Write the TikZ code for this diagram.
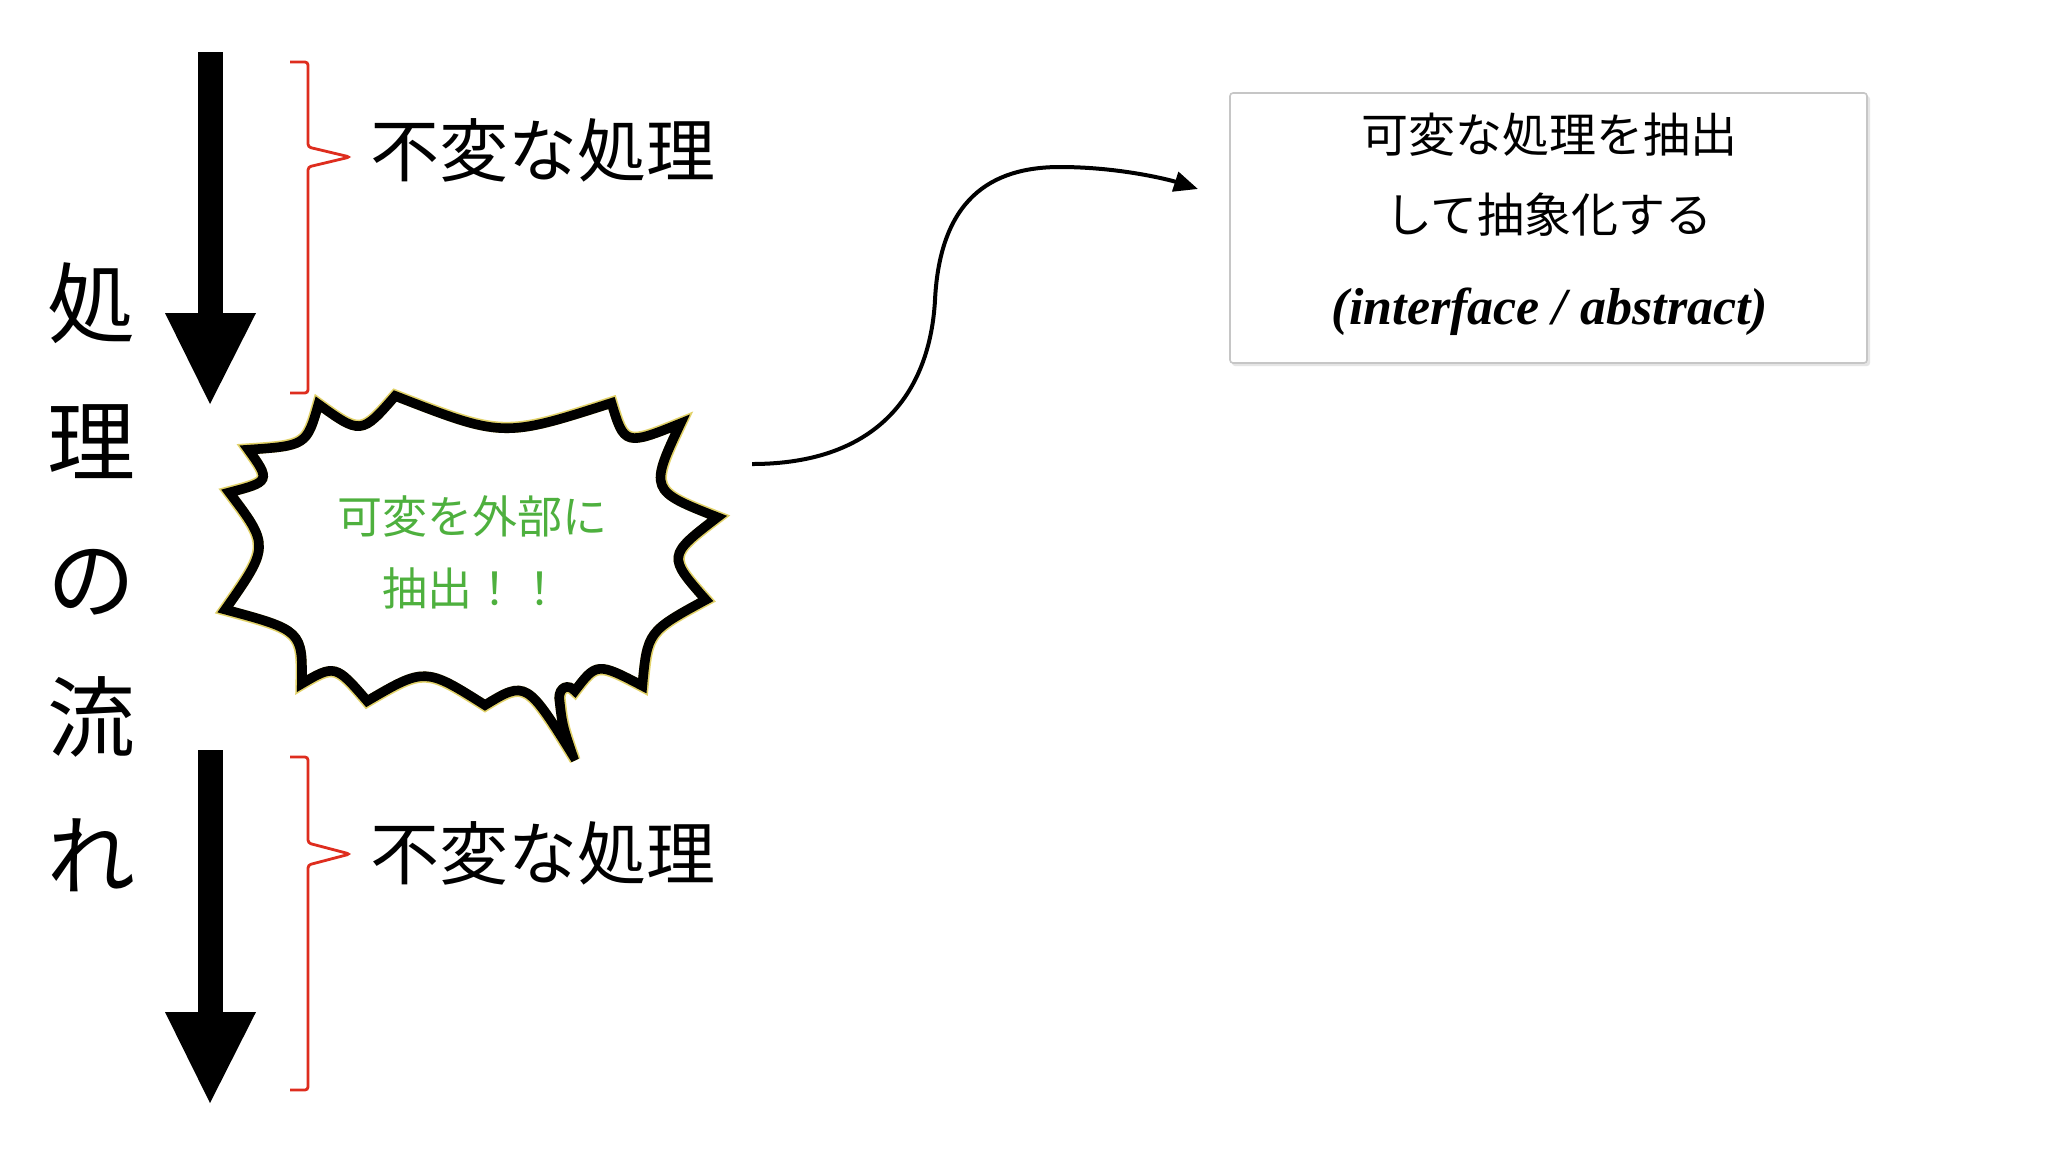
\documentclass[tikz,border=0pt]{standalone}
\usepackage{fontspec}
\newfontfamily\jp{Noto Sans CJK JP}
\newfontfamily\iface{Liberation Serif}
\usetikzlibrary{arrows.meta}
\definecolor{brred}{RGB}{222,45,30}
\definecolor{bgold}{RGB}{226,210,105}
\definecolor{bgreen}{RGB}{78,176,62}
\definecolor{boxgray}{RGB}{198,198,198}
\begin{document}
\begin{tikzpicture}[x=0.5pt,y=-0.5pt,
  bigtext/.style={inner sep=0pt, font=\jp\fontsize{34.5}{40}\selectfont},
  boxtext/.style={inner sep=0pt, font=\jp\fontsize{23.5}{28}\selectfont},
  brace/.style={draw=brred, line width=1.4pt, rounded corners=1.5pt},
  flowarrow/.style={fill=black},
  connector/.style={draw=black, line width=2pt, -{Triangle[length=12pt,width=10pt]}},
  absbox/.style={draw=boxgray, line width=0.8pt, rounded corners=1.5pt, fill=white,
     minimum width=318.5pt, minimum height=135pt, inner sep=0pt}]
\useasboundingbox (0,0) rectangle (2048,1152);
\fill[white] (0,0) rectangle (2048,1152);

% flow arrows
\fill[flowarrow] (198,52) rectangle (223,314);
\fill[flowarrow] (165,313) -- (256,313) -- (210,404) -- cycle;
\fill[flowarrow] (198,750) rectangle (223,1013);
\fill[flowarrow] (165,1012) -- (256,1012) -- (210,1103) -- cycle;

% vertical label
\node[inner sep=0pt, align=center, font=\jp\fontsize{44}{69}\selectfont] (flow) at (91,577) {処\\理\\の\\流\\れ};

% brackets
\draw[brace] (290,62) -- (308,62) -- (308,147) -- (350,157) -- (308,167) -- (308,393) -- (290,393);
\draw[brace] (290,757) -- (308,757) -- (308,843) -- (350,854) -- (308,865) -- (308,1090) -- (290,1090);

\node[bigtext] (inv1) at (543,150) {不変な処理};
\node[bigtext] (inv2) at (543,853) {不変な処理};

% burst balloon
\path[save path=\bubpath] (395,395) .. controls (503,437) .. (612,402)
  .. controls (625,445) .. (682,422)
  .. controls (650,490) .. (719,517)
  .. controls (668,556) .. (707,600)
  .. controls (648,632) .. (643,687)
  .. controls (597,663) .. (575,692)
  .. controls (568,684) and (560,688) .. (560,698)
  .. controls (563,725) .. (575,760)
  .. controls (526,681) .. (485,706)
  .. controls (425,668) .. (367,702)
  .. controls (335,665) .. (301,685)
  .. controls (302,631) .. (224,610)
  .. controls (269,546) .. (228,492)
  .. controls (270,481) .. (247,449)
  .. controls (306,445) .. (318,403)
  .. controls (361,434) .. (395,395) -- cycle;
\fill[white, draw=bgold, line width=5.6pt, line join=miter, miter limit=5, use path=\bubpath];
\begin{scope}
  \clip[use path=\bubpath];
  \draw[black, line width=5.6pt, line join=miter, use path=\bubpath];
\end{scope}
\draw[black, line width=4pt, line join=miter, miter limit=5, use path=\bubpath];

\node[inner sep=0pt, align=center, text=bgreen, font=\jp\fontsize{22.5}{36}\selectfont] (burst) at (472,552) {可変を外部に\\抽出！！};

% abstraction box
\fill[black!10, rounded corners=1.5pt] (1232,96) rectangle (1870,366);
\node[absbox] (abs) at (1548.5,228) {};
\node[boxtext] (l1) at (1549,135) {可変な処理を抽出};
\node[boxtext] (l2) at (1549,215) {して抽象化する};
\node[inner sep=0pt, font=\iface\bfseries\itshape\fontsize{26}{30}\selectfont] (l3) at (1550,312) {(interface / abstract)};

% connector
\coordinate (bstart) at (752,464);
\coordinate (tipend) at (1198,189);
\draw[connector] (bstart) .. controls (880,464) and (930,390) .. (935,300)
   .. controls (940,200) and (990,167) .. (1060,167)
   .. controls (1120,167) and (1170,180) .. (tipend);
\end{tikzpicture}
\end{document}
